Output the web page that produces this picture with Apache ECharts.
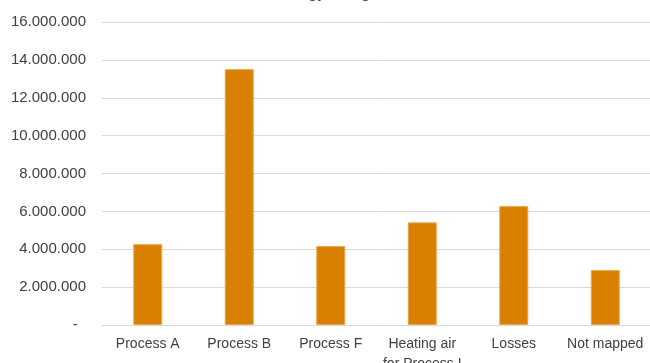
<!DOCTYPE html>
<html>
<head>
<meta charset="utf-8">
<script src="https://cdn.jsdelivr.net/npm/echarts@6/dist/echarts.min.js"></script>
<style>
  html, body { margin: 0; padding: 0; background: #fff; }
  #main { width: 650px; height: 363px; }
</style>
</head>
<body>
<div id="main"></div>
<script>
// categories and values
var categories = ['Process A', 'Process B', 'Process F', 'Heating air\nfor Process I', 'Losses', 'Not mapped'];
var energyValues = [4270000, 13510000, 4170000, 5420000, 6280000, 2900000];
var yTicks = [0, 2000000, 4000000, 6000000, 8000000, 10000000, 12000000, 14000000, 16000000];

function fmt(v) {
    if (v === 0) return '-  ';
    return String(v).replace(/\B(?=(\d{3})+(?!\d))/g, '.');
}

var myChart = echarts.init(document.getElementById('main'));
myChart.setOption({
    animation: false,
    title: {
        text: 'Energy usage',
        left: 'center',
        top: -22,
        textStyle: { fontFamily: 'Liberation Sans', fontSize: 18, fontWeight: 'normal', color: '#404040' }
    },
    grid: { left: 102, top: 22, width: 549, height: 303, outerBoundsMode: 'none', containLabel: false },
    xAxis: {
        type: 'category',
        data: categories,
        axisLine: { lineStyle: { color: '#d9d9d9', width: 1 } },
        axisTick: { show: false },
        axisLabel: {
            interval: 0,
            margin: 9,
            color: '#404040',
            fontFamily: 'Liberation Sans',
            fontSize: 14,
            lineHeight: 20
        }
    },
    yAxis: {
        type: 'value',
        min: yTicks[0],
        max: yTicks[yTicks.length - 1],
        interval: 2000000,
        axisLine: { show: false },
        axisTick: { show: false },
        splitLine: { lineStyle: { color: '#d9d9d9', width: 1 } },
        axisLabel: {
            margin: 16,
            color: '#404040',
            fontFamily: 'Liberation Sans',
            fontSize: 15,
            formatter: fmt
        }
    },
    series: [{
        name: 'Energy',
        type: 'bar',
        data: energyValues,
        barWidth: 29,
        itemStyle: { color: '#d98000', borderColor: '#e8a850', borderWidth: 1 }
    }]
});
</script>
</body>
</html>
